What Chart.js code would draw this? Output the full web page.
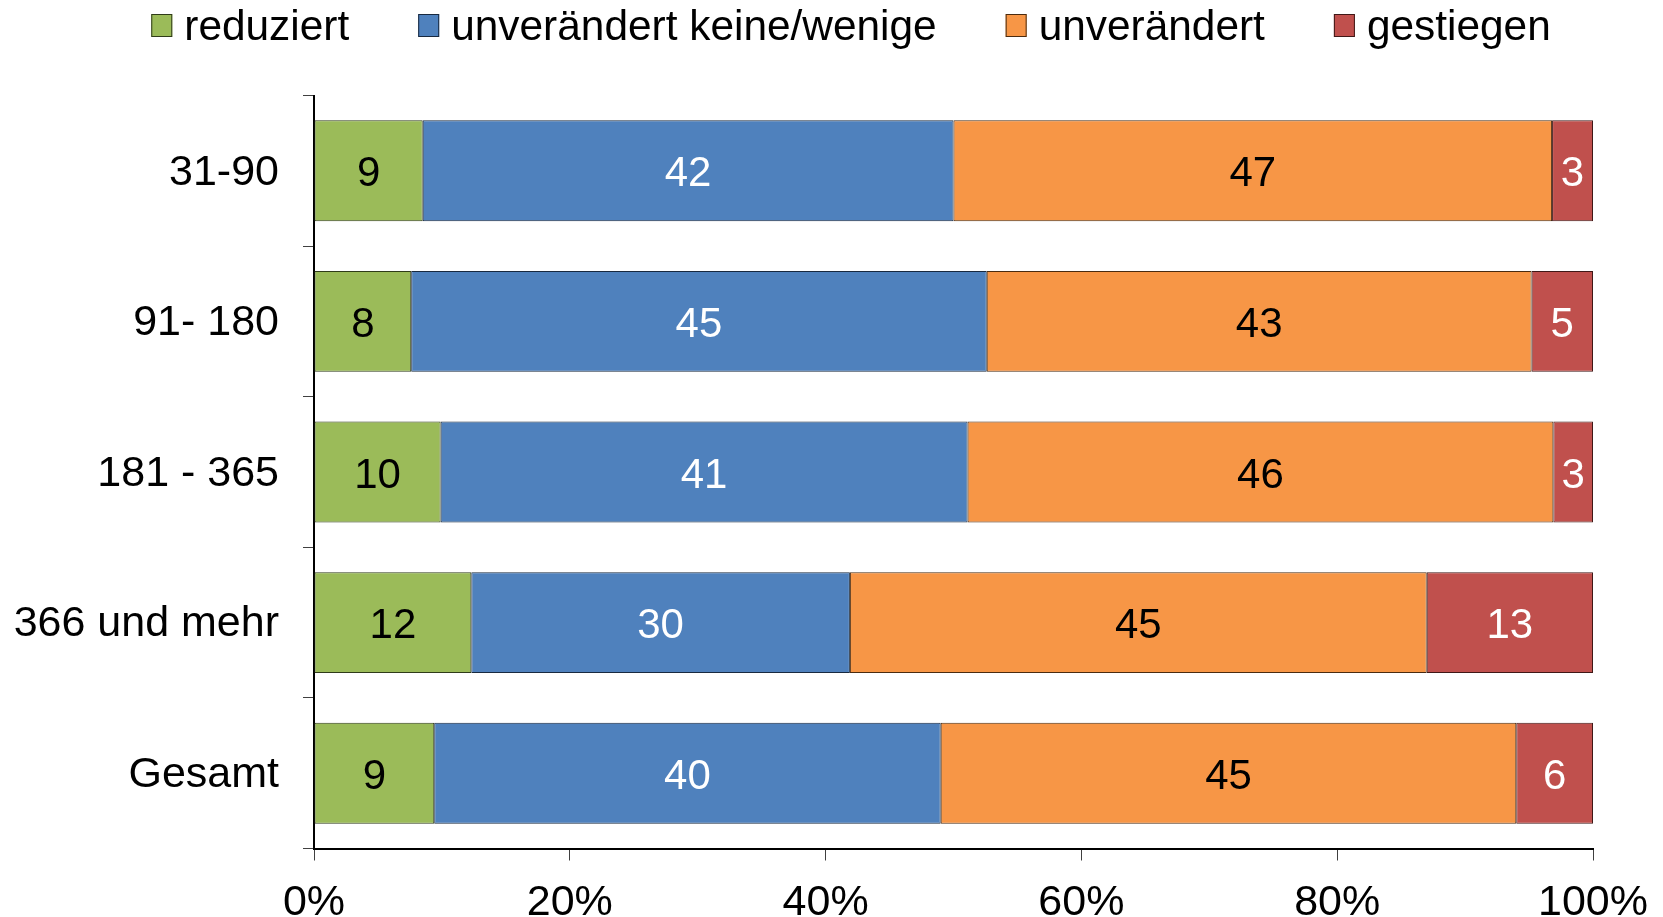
<!DOCTYPE html>
<html>
<head>
<meta charset="utf-8">
<script src="https://cdn.jsdelivr.net/npm/chart.js@4"></script>
<style>
  html, body { margin: 0; padding: 0; background: #fff; }
  #wrap { width: 1663px; height: 917px; }
</style>
</head>
<body>
<div id="wrap"><canvas id="chart"></canvas></div>
<script>
// values (percent of row)
const categories = ['31-90', '91- 180', '181 - 365', '366 und mehr', 'Gesamt'];
const reduziert = [8.5, 7.6, 9.9, 12.3, 9.4];
const unveraendertWenige = [41.5, 45.0, 41.2, 29.6, 39.6];
const unveraendert = [46.8, 42.6, 45.8, 45.1, 45.0];
const gestiegen = [3.2, 4.8, 3.1, 13.0, 6.0];
const xTicks = [0, 20, 40, 60, 80, 100];

const FONT = '"Liberation Sans", Arial, sans-serif';

// value labels inside the bars
const barLabels = {
  id: 'barLabels',
  afterDatasetsDraw(chart) {
    const ctx = chart.ctx;
    ctx.save();
    ctx.font = '42px ' + FONT;
    ctx.textAlign = 'center';
    ctx.textBaseline = 'middle';
    chart.data.datasets.forEach((ds, i) => {
      chart.getDatasetMeta(i).data.forEach((el, j) => {
        ctx.fillStyle = ds.labelColor;
        ctx.fillText(String(Math.round(ds.data[j])), (el.x + el.base) / 2, el.y + 4);
      });
    });
    ctx.restore();
  }
};

// legend row at the top
const topLegend = {
  id: 'topLegend',
  afterDraw(chart) {
    const ctx = chart.ctx;
    ctx.save();
    ctx.font = '42.4px ' + FONT;
    const items = chart.data.datasets;
    const box = 21, gap = 12, itemGap = 69;
    let total = 0;
    items.forEach((d, i) => { total += box + gap + ctx.measureText(d.label).width + (i ? itemGap : 0); });
    let x = 851 - total / 2;
    items.forEach(d => {
      ctx.fillStyle = d.backgroundColor;
      ctx.fillRect(x, 14, box, 23);
      ctx.strokeStyle = d.borderColor;
      ctx.lineWidth = 1;
      ctx.strokeRect(x + 0.5, 14.5, box - 1, 22);
      ctx.fillStyle = '#000';
      ctx.textBaseline = 'alphabetic';
      ctx.fillText(d.label, x + box + gap, 40);
      x += box + gap + ctx.measureText(d.label).width + itemGap;
    });
    ctx.restore();
  }
};

const ctx = document.getElementById('chart').getContext('2d');
new Chart(ctx, {
  type: 'bar',
  data: {
    labels: categories,
    datasets: [
      { label: 'reduziert', data: reduziert, backgroundColor: '#9BBB59', borderColor: '#2f3b19', labelColor: '#000' },
      { label: 'unverändert keine/wenige', data: unveraendertWenige, backgroundColor: '#4F81BD', borderColor: '#18293f', labelColor: '#fff' },
      { label: 'unverändert', data: unveraendert, backgroundColor: '#F79646', borderColor: '#4a2b10', labelColor: '#000' },
      { label: 'gestiegen', data: gestiegen, backgroundColor: '#C0504D', borderColor: '#3f1817', labelColor: '#fff' }
    ].map(d => Object.assign(d, { borderWidth: 1, borderSkipped: false, barPercentage: 0.67, categoryPercentage: 1 }))
  },
  options: {
    indexAxis: 'y',
    responsive: true,
    maintainAspectRatio: false,
    animation: false,
    layout: { padding: { top: 95.5, right: 70, bottom: 0, left: 0 } },
    plugins: { legend: { display: false }, tooltip: { enabled: false } },
    scales: {
      x: {
        stacked: true,
        min: 0,
        max: 100,
        afterBuildTicks: axis => { axis.ticks = xTicks.map(v => ({ value: v })); },
        afterFit: axis => { axis.height = 68.5; axis.paddingLeft = 0; axis.paddingRight = 0; },
        ticks: { color: '#000', font: { size: 43, family: FONT }, padding: 17, callback: v => v + '%' },
        grid: { drawOnChartArea: false, tickLength: 12, color: '#404040' },
        border: { color: '#000', width: 2 }
      },
      y: {
        stacked: true,
        afterFit: axis => { axis.width = 314; },
        ticks: { color: '#000', font: { size: 43, family: FONT }, padding: 24, labelOffset: 2 },
        grid: { drawOnChartArea: false, tickLength: 11, color: '#404040', offset: true },
        border: { color: '#000', width: 2 }
      }
    }
  },
  plugins: [barLabels, topLegend]
});
</script>
</body>
</html>
